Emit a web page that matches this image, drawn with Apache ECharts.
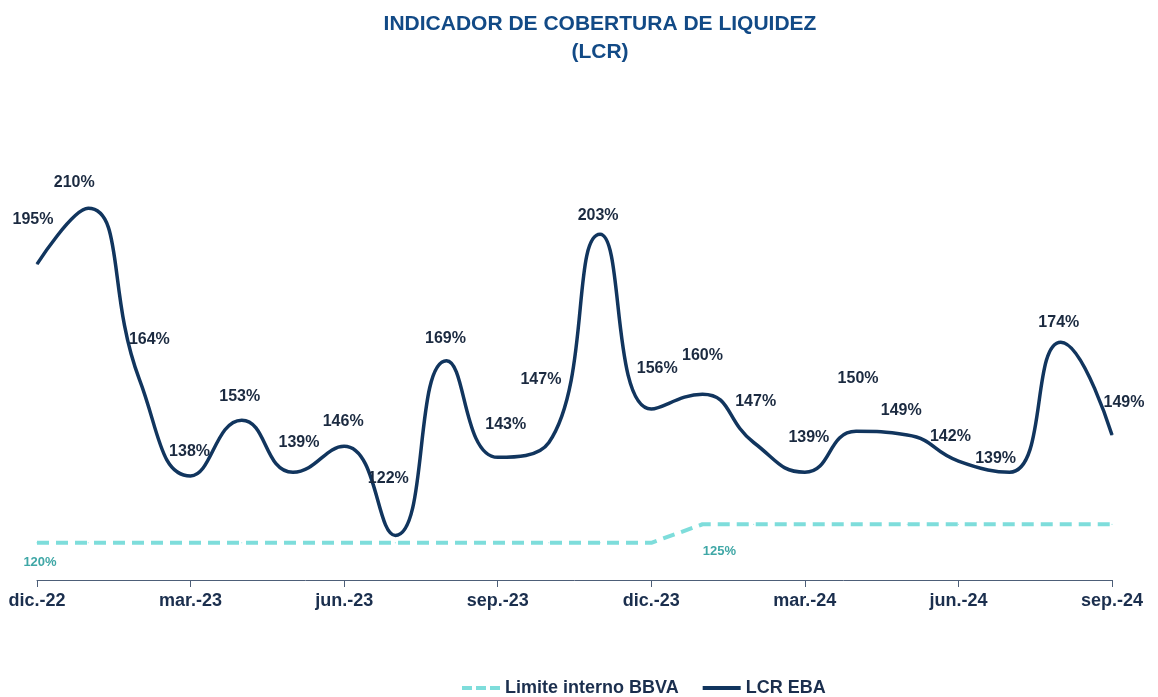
<!DOCTYPE html>
<html><head><meta charset="utf-8">
<script src="https://cdn.jsdelivr.net/npm/echarts@6/dist/echarts.min.js"></script>
<style>html,body{margin:0;padding:0;background:#fff}#c{width:1158px;height:697px}</style>
</head><body><div id="c"></div>
<script>
const categories = ['dic.-22','ene.-23','feb.-23','mar.-23','abr.-23','may.-23','jun.-23','jul.-23','ago.-23','sep.-23','oct.-23','nov.-23','dic.-23','ene.-24','feb.-24','mar.-24','abr.-24','may.-24','jun.-24','jul.-24','ago.-24','sep.-24'];
const lcrEba = [195,210,164,138,153,139,146,122,169,143,147,203,156,160,147,139,150,149,142,139,174,149];
const limiteInterno = [120,120,120,120,120,120,120,120,120,120,120,120,120,125,125,125,125,125,125,125,125,125];
// label offsets (dx, dy) relative to a point
const lcrLabelOffsets = [[-4,-44],[-14,-26],[10,-40],[-1,-24],[-2,-24],[6,-30],[-1,-25],[-7,-57],[-1,-22],[8,-33],[-8,-63],[-2,-19],[6,-40],[0,-39],[2,-41],[4,-35],[2,-53],[-6,-24],[-8,-24],[-14,-14],[-2,-20],[12,-32]];
const FONT = "'Liberation Sans',Arial,sans-serif";
const chart = echarts.init(document.getElementById('c'));
chart.setOption({
  animation:false,
  title:{text:'INDICADOR DE COBERTURA DE LIQUIDEZ\n(LCR)',left:595,textAlign:'center',top:5,
    textStyle:{fontFamily:FONT,fontWeight:'bold',fontSize:21,lineHeight:28,color:'#124A86'}},
  grid:{left:37,right:46,top:134,bottom:117},
  legend:{top:674,left:457,itemWidth:38,itemHeight:4,itemGap:24,
    textStyle:{fontFamily:FONT,fontWeight:'bold',fontSize:18,color:'#1B2F4E'},
    data:[{name:'Limite interno BBVA',icon:'path://M0,0h10v4h-10z M14,0h10v4h-10z M28,0h10v4h-10z'},
          {name:'LCR EBA',icon:'path://M0,0h38v4h-38z'}]},
  xAxis:{type:'category',data:categories,boundaryGap:false,
    axisLine:{lineStyle:{color:'#4D5E78',width:1}},
    axisTick:{alignWithLabel:true,interval:2,length:7,lineStyle:{color:'#4D5E78'}},
    axisLabel:{interval:2,margin:12,fontFamily:FONT,fontWeight:'bold',fontSize:18,color:'#1B2F4E'}},
  yAxis:{type:'value',min:110,max:230,show:false,splitLine:{show:false}},
  series:[
    {name:'Limite interno BBVA',type:'line',data:limiteInterno.map((v,i)=>{
        const o={value:v};
        if(i===0) o.label={show:true,offset:[3,20]};
        if(i===13) o.label={show:true,offset:[17,27]};
        return o;}),
      symbol:'circle',symbolSize:1,smooth:false,
      lineStyle:{color:'#7EDDDB',width:4,type:[12,7]},itemStyle:{color:'#7EDDDB'},
      label:{show:false,position:'inside',formatter:'{c}%',fontFamily:FONT,fontWeight:'bold',fontSize:13,color:'#3FA7A6'}},
    {name:'LCR EBA',type:'line',smooth:0.5,symbol:'circle',symbolSize:1,
      data:lcrEba.map((v,i)=>({value:v,label:{offset:lcrLabelOffsets[i]}})),
      lineStyle:{color:'#11355E',width:3.5},itemStyle:{color:'#11355E'},
      label:{show:true,position:'inside',formatter:'{c}%',fontFamily:FONT,fontWeight:'bold',fontSize:16,color:'#1B2A40'}}
  ]
});
</script></body></html>
